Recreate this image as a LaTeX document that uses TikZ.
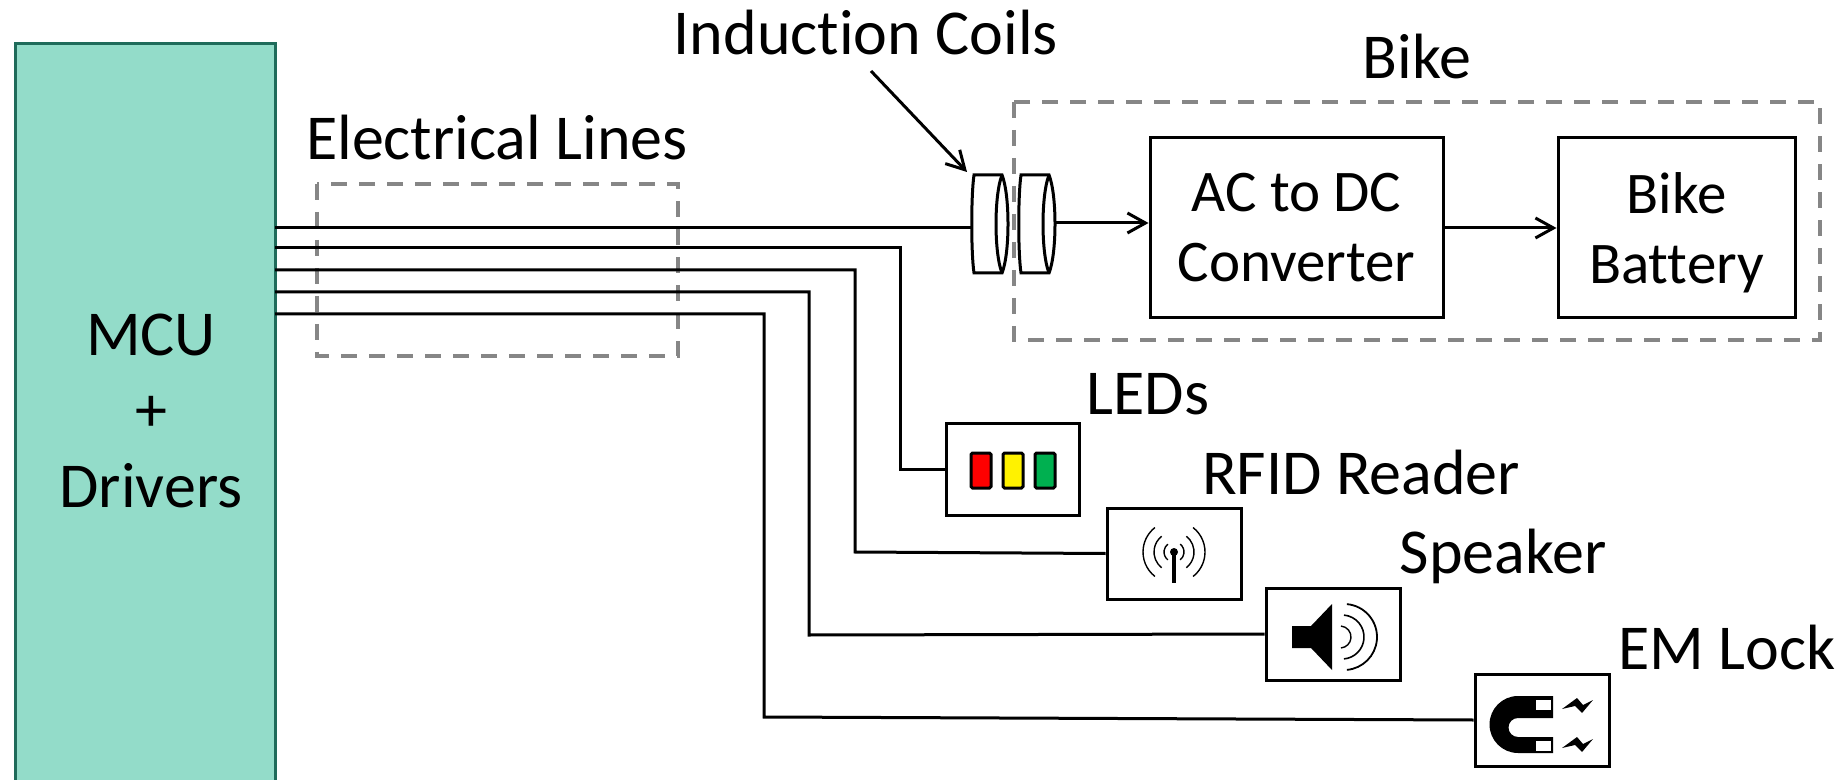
\documentclass[tikz,border=0pt]{standalone}
\usepackage{fontspec}
\setmainfont[Ligatures=NoCommon]{Carlito}
\usetikzlibrary{arrows.meta}
\definecolor{MCUfill}{RGB}{147,220,201}
\definecolor{MCUline}{RGB}{31,107,90}
\definecolor{dashgray}{RGB}{134,134,134}
\definecolor{ledgreen}{RGB}{0,176,80}
\tikzset{
  box/.style={draw=black,line width=1.5pt,fill=white,align=center,inner sep=0pt},
  label/.style={font=\fontsize{32}{35}\selectfont,align=center,inner sep=0pt},
  boxlabel/.style={font=\fontsize{29.5}{35}\selectfont},
  wire/.style={line width=1.5pt},
  dashbox/.style={draw=dashgray,line width=1.75pt,dash pattern=on 8pt off 6pt},
  led/.style={draw=black,line width=1.5pt,rounded corners=.8pt},
  thinarc/.style={line width=.7pt},
  barb/.style={-{Straight Barb[length=9pt,width=10pt]}}
}
\newcommand{\drawcoil}[1]{
  \draw[line width=1.5pt,fill=white] (#1+2,175)--(#1+30,175)..controls (#1+38,195) and (#1+38,253)..(#1+30,273)--(#1+2,273)..controls (#1-1,253) and (#1-1,195)..(#1+2,175)--cycle;
  \draw[line width=1.5pt] (#1+30,175)..controls (#1+22,195) and (#1+22,253)..(#1+30,273);
}
\newcommand{\drawled}[2]{\draw[led,fill=#2] (#1,453) rectangle ++(20,35);}
\newcommand{\drawbolt}[1]{\fill (1562,#1+11)--(1577,#1)--(1583,#1+7)--(1593,#1+2)--(1582,#1+15)--(1575,#1+8)--cycle;}
\begin{document}
\begin{tikzpicture}[x=.5pt,y=-.5pt]
\useasboundingbox (0,0) rectangle (1846,780);
\begin{scope}
\clip (0,0) rectangle (1846,780);
\node[draw=MCUline,fill=MCUfill,line width=1.5pt,minimum width=130pt,minimum height=373pt,inner sep=0pt] (mcu) at (145,417) {};
\end{scope}
\node[label] (mcutext) at (151,411) {MCU\\[3pt]+\\[3pt]Drivers};
% dashed frames
\draw[dashbox] (317,184) rectangle (678,356);
\draw[dashbox] (1014,102) rectangle (1820,340);
% labels
\node[label] (coilstext) at (866,33) {Induction Coils};
\node[label] (biketext) at (1417,57) {Bike};
\node[label] (linestext) at (497,138) {Electrical Lines};
\node[label] (ledstext) at (1148,394) {LEDs};
\node[label] (rfidtext) at (1361,473) {RFID Reader};
\node[label] (speakertext) at (1503,556) {Speaker};
\node[label] (locktext) at (1727,647) {EM Lock};
% boxes
\node[box,label,boxlabel,minimum width=146.5pt,minimum height=90pt] (conv) at (1296.5,228) {AC to DC\\Converter};
\node[box,label,boxlabel,text depth=0pt,minimum width=118.5pt,minimum height=90pt] (batt) at (1676.5,228) {Bike\\Battery};
\node[box,minimum width=66.5pt,minimum height=46pt] (leds) at (1012.5,469) {};
\node[box,minimum width=67pt,minimum height=45.5pt] (rfid) at (1174,553.5) {};
\node[box,minimum width=67pt,minimum height=46pt] (speaker) at (1333,634) {};
\node[box,minimum width=67pt,minimum height=46pt] (lock) at (1542,720) {};
% wires
\coordinate (wirea) at (275,228);
\coordinate (wireb) at (275,248);
\coordinate (wirec) at (275,270);
\coordinate (wired) at (275,292);
\coordinate (wiree) at (275,314);
\coordinate (coila) at (972,228);
\coordinate (coilb) at (1056,223);
\coordinate (turnb) at (900,469);
\coordinate (turnc) at (855,552);
\coordinate (turnd) at (809,635);
\coordinate (turne) at (764,717);
\draw[wire] (wirea)--(coila);
\draw[wire] (wireb)-|(turnb)--(leds.west);
\draw[wire] (wirec)-|(turnc)--(rfid.west);
\draw[wire] (wired)-|(turnd)--(speaker.west);
\draw[wire] (wiree)-|(turne)--(lock.west);
\draw[wire,barb] (coilb)--(conv.west |- coilb);
\draw[wire,barb] (conv.east)--(batt.west);
% coils
\drawcoil{972}
\drawcoil{1019}
\coordinate (arrowfrom) at (871,71);
\coordinate (arrowto) at (967,172);
\draw[wire,barb] (arrowfrom)--(arrowto);
% LEDs
\drawled{971}{red}\drawled{1003}{yellow}\drawled{1035}{ledgreen}
% RFID
\fill (1172,552)--(1176,552)--(1176,583)--(1172,583)--cycle;
\fill (1174,552) circle (4);
\foreach \r in {10,20,31}{
  \draw[thinarc] (1174,552)++(-52:\r)arc(-52:52:\r);
  \draw[thinarc] (1174,552)++(128:\r)arc(128:232:\r);
}
% speaker
\fill (1292,626)--(1311,626)--(1332,604)--(1332,670)--(1311,648)--(1292,648)--cycle;
\draw[thinarc,line width=.9pt] (1344,637)++(-85:33)arc(-85:85:33);
\draw[thinarc,line width=.8pt] (1342,637)++(-85:22)arc(-85:85:22);
\draw[thinarc] (1340,637)++(-85:11)arc(-85:85:11);
% magnet
\fill (1553,696)--(1518,696)arc(270:90:28.5)--(1553,753)--(1553,737)--(1518,737)arc(90:270:9.5)--(1553,718)--cycle;
\draw[fill=white,line width=.8pt] (1535,699) rectangle (1552,711);
\draw[fill=white,line width=.8pt] (1535,740) rectangle (1552,752);
\drawbolt{698}\drawbolt{737}
\end{tikzpicture}
\end{document}
